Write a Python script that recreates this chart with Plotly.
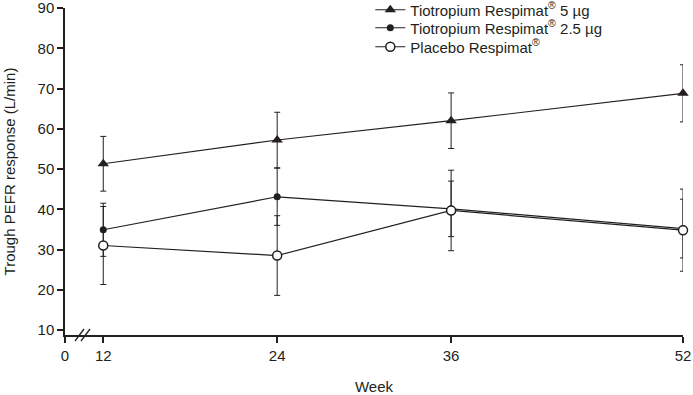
import plotly.graph_objects as go

# ---- data ----
weeks = [12, 24, 36, 52]
tick_labels = ["0", "12", "24", "36", "52"]

names = ["Tiotropium Respimat<sup>®</sup> 5 µg",
         "Tiotropium Respimat<sup>®</sup> 2.5 µg",
         "Placebo Respimat<sup>®</sup>"]
tio5_mean = [51.3, 57.2, 62.0, 68.8]
tio5_err = [6.8, 6.9, 6.9, 7.1]
tio25_mean = [34.9, 43.1, 40.1, 35.2]
tio25_err = [6.6, 7.1, 6.9, 7.3]
placebo_mean = [31.0, 28.5, 39.7, 34.8]
placebo_err = [9.7, 9.9, 10.0, 10.2]

y_ticks = [10, 20, 30, 40, 50, 60, 70, 80, 90]

# axis break: week 0 drawn compressed next to week 12
ZERO_POS = 9.36

INK = "#231f20"
FONT = "Liberation Sans, Arial, sans-serif"

fig = go.Figure()

series = [
    (names[0], tio5_mean, tio5_err, dict(symbol="triangle-up", size=10, color=INK), "legend"),
    (names[1], tio25_mean, tio25_err, dict(symbol="circle", size=7, color=INK), "legend2"),
    (names[2], placebo_mean, placebo_err,
     dict(symbol="circle", size=9, color="white", line=dict(color=INK, width=1.5)), "legend3"),
]

for name, mean, err, marker, lg in series:
    fig.add_trace(go.Scatter(
        x=weeks, y=mean, name=name, mode="lines+markers",
        line=dict(color=INK, width=1.2),
        marker=marker,
        error_y=dict(type="data", array=err, visible=True, color=INK, thickness=1, width=3),
        cliponaxis=False,
        legend=lg,
    ))

leg_common = dict(x=0.494, xanchor="left", yanchor="middle",
                  bgcolor="rgba(0,0,0,0)", font=dict(size=15), itemwidth=30)

T, B, L, R = 8, 60, 65, 10
pw = 693 - L - R
ph = 395 - T - B

fig.update_layout(
    width=693, height=395,
    margin=dict(l=L, r=R, t=T, b=B, autoexpand=False),
    paper_bgcolor="white", plot_bgcolor="white",
    font=dict(family=FONT, size=15, color=INK),
    showlegend=True,
    legend=dict(y=0.9939, **leg_common),
    legend2=dict(y=0.9388, **leg_common),
    legend3=dict(y=0.8807, **leg_common),
    xaxis=dict(
        range=[ZERO_POS, 52],
        tickvals=[ZERO_POS] + weeks, ticktext=tick_labels,
        showline=True, linecolor=INK, linewidth=1.5,
        ticks="outside", ticklen=6, tickcolor=INK, tickwidth=1.5,
        showgrid=False, zeroline=False, ticklabeloverflow="allow",
        title=dict(text="Week", standoff=22, font=dict(size=15)),
    ),
    yaxis=dict(
        range=[8.76, 90],
        tickvals=y_ticks,
        showline=True, linecolor=INK, linewidth=1.5,
        ticks="outside", ticklen=6, tickcolor=INK, tickwidth=1.5,
        showgrid=False, zeroline=False, ticklabeloverflow="allow",
        title=dict(text="Trough PEFR response (L/min)", standoff=18, font=dict(size=15)),
    ),
)

# axis-break marks "//"
for dx in (0, 6):
    x0 = (10 + dx) / pw
    x1 = (19 + dx) / pw
    fig.add_shape(type="line", xref="paper", yref="paper",
                  x0=x0, y0=-6 / ph, x1=x1, y1=6 / ph,
                  line=dict(color=INK, width=1.3))

fig.write_html("out.html", config={"displayModeBar": False},
               post_script="document.body.style.margin='0';document.body.style.padding='0';")
